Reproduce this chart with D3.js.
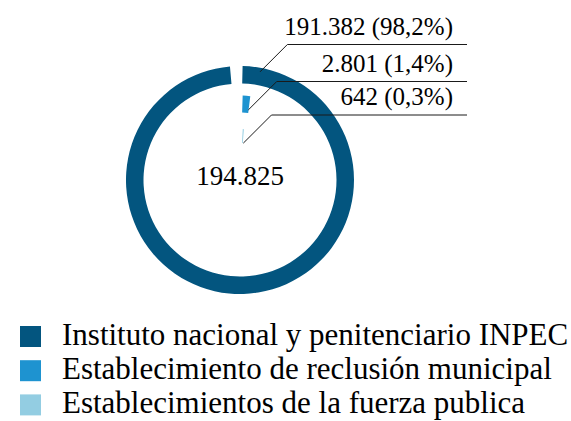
<!DOCTYPE html>
<html>
<head>
<meta charset="utf-8">
<script src="https://cdn.jsdelivr.net/npm/d3@7"></script>
<style>
  html, body { margin: 0; padding: 0; background: #fff; }
  svg { display: block; }
</style>
</head>
<body>
<svg id="chart" width="571" height="421"></svg>
<script>
// Población privada de la libertad por tipo de establecimiento
const categories = [
  "Instituto nacional y penitenciario INPEC",
  "Establecimiento de reclusión municipal",
  "Establecimientos de la fuerza publica"
];
const values = [191382, 2801, 642];
const colors = ["#03557F", "#1E93D0", "#93CDE2"];

const FONT = "'Liberation Serif', 'Times New Roman', Tinos, Times, serif";

// Ring geometry (outer ring first), in pixels
const ringOuter = [114, 84.5, 51];
const ringInner = [96.5, 67.5, 37];
const startGap = 2.4;            // linear offset of each arc's start from 12 o'clock

// Leader-line anchors inside each ring and label baselines
const anchorAngle = [0.183, 0.118, 0.09];
const anchorDepth = [0.77, 0.18, 0.0];
const labelLineY = [44.5, 81.5, 115];
const labelLineEnd = 467;
const labelRight = 453;

const cx = 240, cy = 180;

const es = d3.formatLocale({ decimal: ",", thousands: ".", grouping: [3], currency: ["$", ""] });
const fmtInt = es.format(",d");
const fmtPct = es.format(".1%");

const total = d3.sum(values);
const angle = d3.scaleLinear().domain([0, total]).range([0, 2 * Math.PI]);

const svg = d3.select("#chart");
const g = svg.append("g").attr("transform", `translate(${cx},${cy})`);

const arc = d3.arc();

values.forEach((v, i) => {
  const rMid = (ringOuter[i] + ringInner[i]) / 2;
  const a0 = startGap / rMid;
  g.append("path")
    .attr("d", arc({
      innerRadius: ringInner[i],
      outerRadius: ringOuter[i],
      startAngle: a0,
      endAngle: a0 + angle(v)
    }))
    .attr("fill", colors[i]);

  // leader line: 45° diagonal up-right, then horizontal under the label
  const r = ringInner[i] + anchorDepth[i] * (ringOuter[i] - ringInner[i]);
  const ax = cx + r * Math.sin(anchorAngle[i]);
  const ay = cy - r * Math.cos(anchorAngle[i]);
  const ly = labelLineY[i];
  const ex = ax + (ay - ly);
  svg.append("path")
    .attr("d", `M${ax},${ay}L${ex},${ly}L${labelLineEnd},${ly}`)
    .attr("fill", "none")
    .attr("stroke", "#1a1a1a")
    .attr("stroke-width", 1);

  svg.append("text")
    .attr("x", labelRight)
    .attr("y", ly - 10)
    .attr("text-anchor", "end")
    .attr("font-family", FONT)
    .attr("font-size", 25)
    .attr("fill", "#000")
    .text(`${fmtInt(v)} (${fmtPct(v / total)})`);
});

// total in the centre
g.append("text")
  .attr("x", 0)
  .attr("y", 5)
  .attr("text-anchor", "middle")
  .attr("font-family", FONT)
  .attr("font-size", 27)
  .attr("fill", "#000")
  .text(fmtInt(total));

// legend
const legend = svg.append("g").attr("transform", "translate(20,326)");
const rowH = 34.2;
categories.forEach((c, i) => {
  const row = legend.append("g").attr("transform", `translate(0,${i * rowH})`);
  row.append("rect").attr("width", 21).attr("height", 21).attr("fill", colors[i]);
  row.append("text")
    .attr("x", 42)
    .attr("y", 19)
    .attr("font-family", FONT)
    .attr("font-size", 31)
    .attr("fill", "#000")
    .text(c);
});
</script>
</body>
</html>
